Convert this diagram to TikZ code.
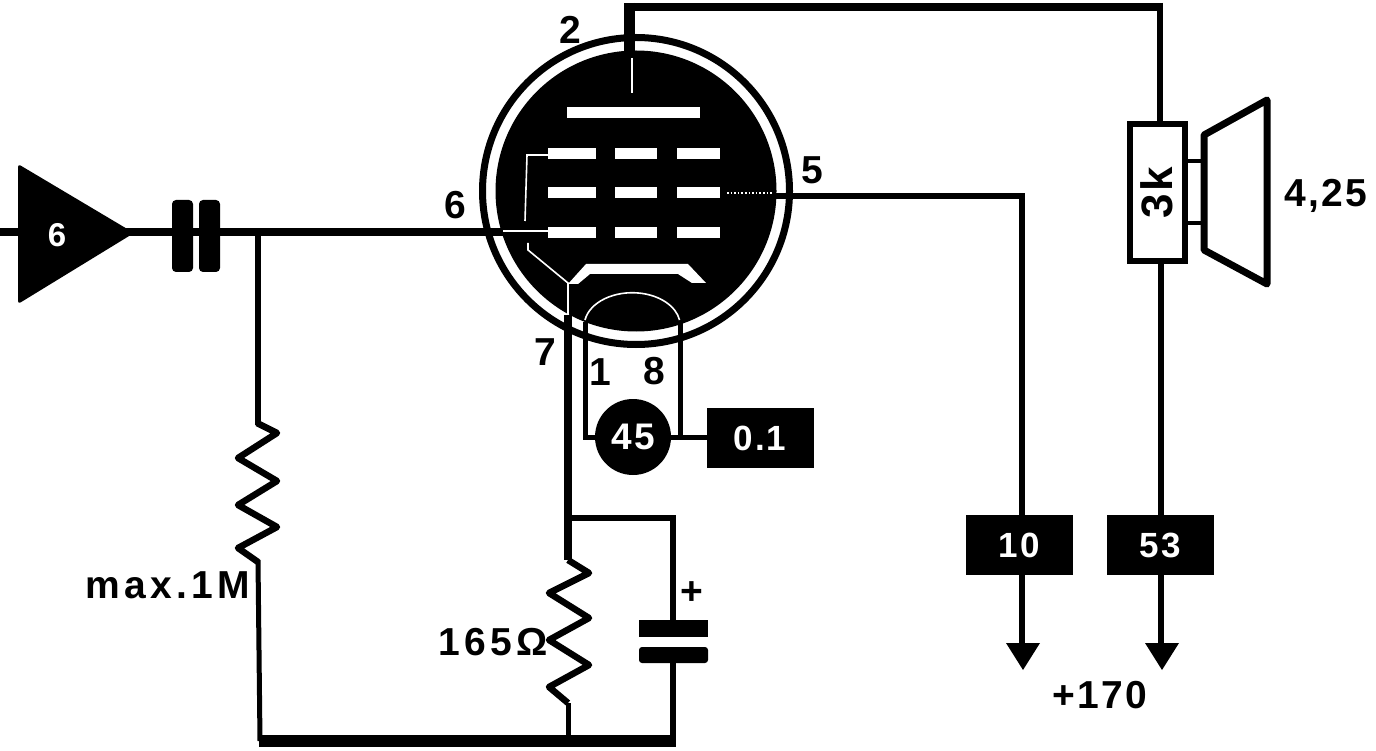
\documentclass[tikz,border=0pt]{standalone}
\usepackage{fontspec}
\setmainfont{Liberation Sans}[BoldFont={* Bold}]
\newfontfamily\lblfont{Liberation Sans Bold}[LetterSpace=6]
\newfontfamily\widefont{Liberation Sans Bold}[LetterSpace=11]
\begin{document}
\begin{tikzpicture}[x=1pt,y=-1pt,
  wire/.style={line width=6.5pt,line join=miter},
  slim wire/.style={line width=5pt,line join=miter},
  inner wire/.style={white,line width=1.6pt},
  bar/.style={fill=white,draw=none},
  blackbox/.style={fill=black,draw=none,minimum width=107pt,minimum height=60pt,inner sep=0pt,text=white,font=\lblfont\fontsize{35}{35}\selectfont},
  lbl/.style={inner sep=0pt,font=\lblfont\fontsize{39}{39}\selectfont},
  widelbl/.style={inner sep=0pt,font=\widefont\fontsize{39}{39}\selectfont},
  zig/.style={line width=6.5pt,line join=round}]
\useasboundingbox (0,0) rectangle (1376,751);
% named junctions
\coordinate (topL) at (629,7);
\coordinate (topR) at (1160,7);
\coordinate (plateIn) at (629,52);
\coordinate (g5Out) at (772,196);
\coordinate (g5Turn) at (1022,196);
\coordinate (g1In) at (503,232);
\coordinate (inL) at (0,232);
\coordinate (jG) at (258,232);
\coordinate (botL) at (259,741);
\coordinate (botR) at (676,741);
\coordinate (botK) at (568,741);
\coordinate (cathOut) at (568,315);
\coordinate (jK) at (568,518);
\coordinate (jKR) at (673,518);
% tube
\node[circle,draw=black,line width=7pt,minimum size=307pt,inner sep=0pt] (envelope) at (636,191) {};
\node[circle,fill=black,draw=none,minimum size=281pt,inner sep=0pt] (disc) at (636,191) {};
% white inner drawing
\fill[bar] (567,107) rectangle (700,118);
\foreach \y in {148,187,227}{
  \fill[bar] (548,\y) rectangle (596,\y+11);
  \fill[bar] (615,\y) rectangle (657,\y+11);
  \fill[bar] (677,\y) rectangle (720,\y+11);
}
\draw[inner wire] (632,58) -- (632,93);
\draw[inner wire] (548,155) -- (527,155) -- (525,221);
\draw[inner wire] (503,231) -- (548,231);
\draw[inner wire] (528,243) -- (528,250) -- (568,283) -- (568,316);
\fill[bar] (568,284) -- (586,264) -- (688,264) -- (706,283) -- (692,283) -- (678,274) -- (590,274) -- (578,284) -- cycle;
\draw[inner wire,dotted] (727,193) -- (772,193);
\draw[inner wire] (585,320) arc[start angle=170,end angle=10,x radius=48pt,y radius=33pt];
% wires
\draw[line width=8pt] (topL) -- (topR);
\draw[wire] (1160,3) -- (1160,123);
\draw[line width=11pt] (629,3) -- (plateIn);
\draw[wire] (g5Out) -- (g5Turn) -- (1022,648);
\draw[line width=7.5pt] (inL) -- (g1In);
\draw[wire] (jG) -- (258,425);
\draw[slim wire] (258,560) -- (260,741);
\draw[line width=12pt] (botL) -- (botR);
\draw[line width=7.5pt] (cathOut) -- (jK) -- (568,560);
\draw[slim wire] (568,703) -- (botK);
\draw[wire] (jK) -- (jKR) -- (jKR |- 0,625);
\draw[wire] (673,655) -- (botR -| jKR);
\draw[wire] (1161,262) -- (1161,648);
% heater
\draw[slim wire] (585,322) -- (585,437) -- (633,437);
\draw[slim wire] (680,322) -- (680,437);
\draw[slim wire] (633,437) -- (707,437);
% triangle amp
\fill[rounded corners=3pt] (18,164) -- (134,233) -- (18,304) -- cycle;
\node[inner sep=0pt,text=white,font=\lblfont\fontsize{33}{33}\selectfont] (amp) at (57,235) {6};
% coupling capacitor
\fill[rounded corners=4pt] (172,200) rectangle (193,272);
\fill[rounded corners=4pt] (199,200) rectangle (220,272);
% grid resistor
\draw[zig] (257,423) -- (277,433) -- (238,458) -- (277,481) -- (238,505) -- (277,527) -- (238,548) -- (258,562);
% cathode resistor
\draw[zig] (568,560) -- (589,573) -- (549,593) -- (589,618) -- (549,640) -- (589,665) -- (549,687) -- (568,703);
% electrolytic
\fill (639,620) rectangle (708,637);
\fill[rounded corners=3pt] (639,647) rectangle (708,663);
% 45 lamp
\node[circle,fill=black,minimum size=76pt,inner sep=0pt,text=white,font=\lblfont\fontsize{37}{37}\selectfont] (lamp) at (633,437) {45};
% boxes
\node[blackbox] (b01) at (760,438) {0.1};
\node[blackbox] (b10) at (1019,545) {10};
\node[blackbox] (b53) at (1160,545) {53};
% arrows
\fill (1006,643) -- (1040,643) -- (1023,670) -- cycle;
\fill (1145,643) -- (1179,643) -- (1162,670) -- cycle;
% output transformer and speaker
\node[draw=black,fill=white,line width=6pt,minimum width=55pt,minimum height=137pt,inner sep=0pt] (tr) at (1157,193) {};
\node[rotate=90,inner sep=0pt,font=\lblfont\fontsize{44}{44}\selectfont] at (1157,193) {3k};
\draw[line width=3.5pt] (tr.east |- 0,161) -- (1204,161);
\draw[line width=3.5pt] (tr.east |- 0,223) -- (1204,223);
\draw[line width=7pt,line join=round] (1204,135) -- (1267,100) -- (1267,284) -- (1204,250) -- cycle;
% labels
\node[lbl] at (570,30) {2};
\node[lbl] at (812,170) {5};
\node[lbl] at (455,205) {6};
\node[lbl] at (545,352) {7};
\node[lbl] at (600,372) {1};
\node[lbl] at (654,371) {8};
\node[lbl] at (1326,196) {4,\kern2pt 25};
\node[lbl] at (1100,695) {+170};
\node[widelbl,anchor=east] at (250,585) {max.1M};
\node[widelbl,anchor=east] at (548,642) {165Ω};
\node[lbl] at (692,593) {+};
\end{tikzpicture}
\end{document}
